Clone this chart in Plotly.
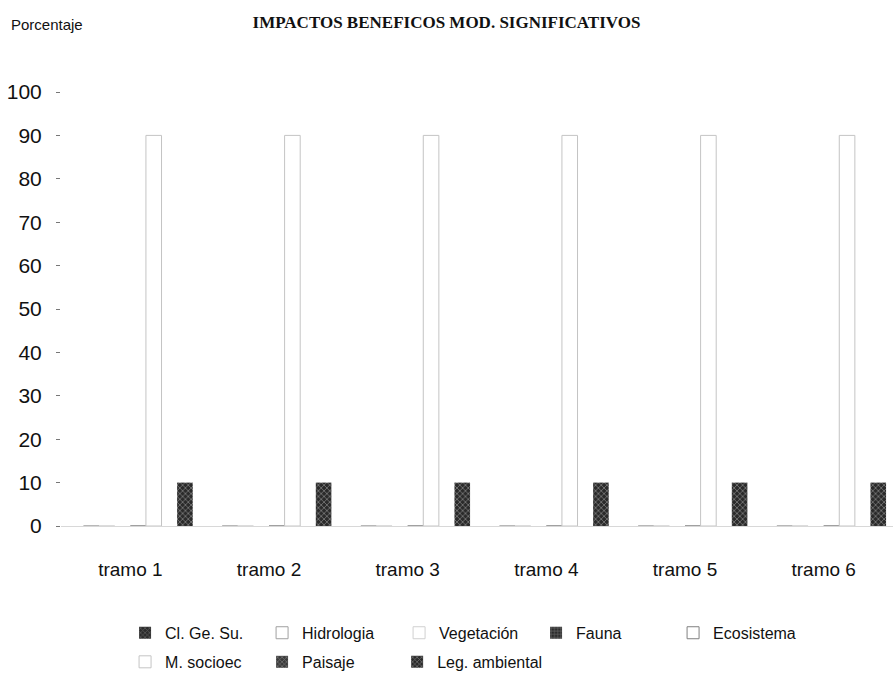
import plotly.graph_objects as go

# Categories and series values (percent)
tramos = ["tramo 1", "tramo 2", "tramo 3", "tramo 4", "tramo 5", "tramo 6"]
series_names = ["Cl. Ge. Su.", "Hidrologia", "Vegetación", "Fauna",
                "Ecosistema", "M. socioec", "Paisaje", "Leg. ambiental"]
cl_ge_su = [0, 0, 0, 0, 0, 0]
hidrologia = [0, 0, 0, 0, 0, 0]
vegetacion = [0, 0, 0, 0, 0, 0]
fauna = [0, 0, 0, 0, 0, 0]
ecosistema = [0, 0, 0, 0, 0, 0]
m_socioec = [90, 90, 90, 90, 90, 90]
paisaje = [0, 0, 0, 0, 0, 0]
leg_ambiental = [10, 10, 10, 10, 10, 10]
y_ticks = [0, 10, 20, 30, 40, 50, 60, 70, 80, 90, 100]

values = [cl_ge_su, hidrologia, vegetacion, fauna,
          ecosistema, m_socioec, paisaje, leg_ambiental]

# Fill styles per series: (fill colour, pattern shape, pattern fg, outline colour, outline width)
styles = [
    ("#2b2b2b", "x", "#8a8a8a", "#222222", 0),
    ("#ffffff", "", "#ffffff", "#a0a0a0", 1),
    ("#ffffff", "", "#ffffff", "#d0d0d0", 1),
    ("#2b2b2b", "+", "#9a9a9a", "#222222", 0),
    ("#ffffff", "", "#ffffff", "#808080", 1),
    ("#ffffff", "", "#ffffff", "#c4c4c4", 1),
    ("#3a3a3a", "x", "#b0b0b0", "#222222", 0),
    ("#2a2a2a", "x", "#bdbdbd", "#1a1a1a", 0),
]
# Legend rows: five series on the top row, the rest below
legend_rows = ["legend"] * 5 + ["legend2"] * 2 + ["legend3"]

FONT = "Liberation Sans, Arial, sans-serif"

fig = go.Figure()
for name, vals, (fill, shape, fg, line, lw), lg in zip(series_names, values, styles, legend_rows):
    fig.add_trace(go.Bar(
        name=name,
        x=tramos,
        y=vals,
        legend=lg,
        marker=dict(
            color=fill,
            line=dict(color=line, width=lw),
            pattern=dict(shape=shape, fgcolor=fg, bgcolor=fill, size=4, solidity=0.4),
        ),
    ))

legend_style = dict(
    orientation="h",
    xanchor="left",
    yanchor="top",
    font=dict(family=FONT, size=16, color="#111111"),
    entrywidth=92,
    entrywidthmode="pixels",
    itemwidth=30,
    tracegroupgap=0,
    bgcolor="rgba(0,0,0,0)",
)
last_style = {k: v for k, v in legend_style.items() if k not in ("entrywidth", "entrywidthmode")}

fig.update_layout(
    width=893,
    height=691,
    paper_bgcolor="white",
    plot_bgcolor="white",
    barmode="group",
    bargap=0.1,
    bargroupgap=0,
    margin=dict(l=61, r=0, t=92, b=165, autoexpand=False),
    title=dict(
        text="<b>IMPACTOS BENEFICOS MOD. SIGNIFICATIVOS</b>",
        x=0.5, xanchor="center", y=0.968, yanchor="middle",
        font=dict(family="Liberation Serif, Times New Roman, serif", size=17, color="#111111"),
    ),
    font=dict(family=FONT, color="#111111"),
    showlegend=True,
    legend=dict(legend_style, x=0.077, y=-0.207),
    legend2=dict(legend_style, x=0.077, y=-0.274),
    legend3=dict(last_style, x=0.404, y=-0.274),
    annotations=[dict(
        text="Porcentaje",
        xref="paper", yref="paper",
        x=-0.062, xanchor="left",
        y=1.155, yanchor="middle",
        showarrow=False,
        font=dict(family=FONT, size=15, color="#111111"),
    )],
)

fig.update_xaxes(
    showgrid=False,
    showline=False,
    zeroline=False,
    ticks="",
    tickfont=dict(family=FONT, size=19, color="#111111"),
    ticklabelstandoff=30,
)
fig.update_yaxes(
    range=[0, 100],
    tickvals=y_ticks,
    showgrid=False,
    showline=False,
    zeroline=True,
    zerolinecolor="#d8d8d8",
    zerolinewidth=1,
    ticks="outside",
    ticklen=4,
    tickcolor="#777777",
    tickfont=dict(family=FONT, size=21, color="#111111"),
    ticklabelstandoff=10,
)

fig.write_html("out.html")
